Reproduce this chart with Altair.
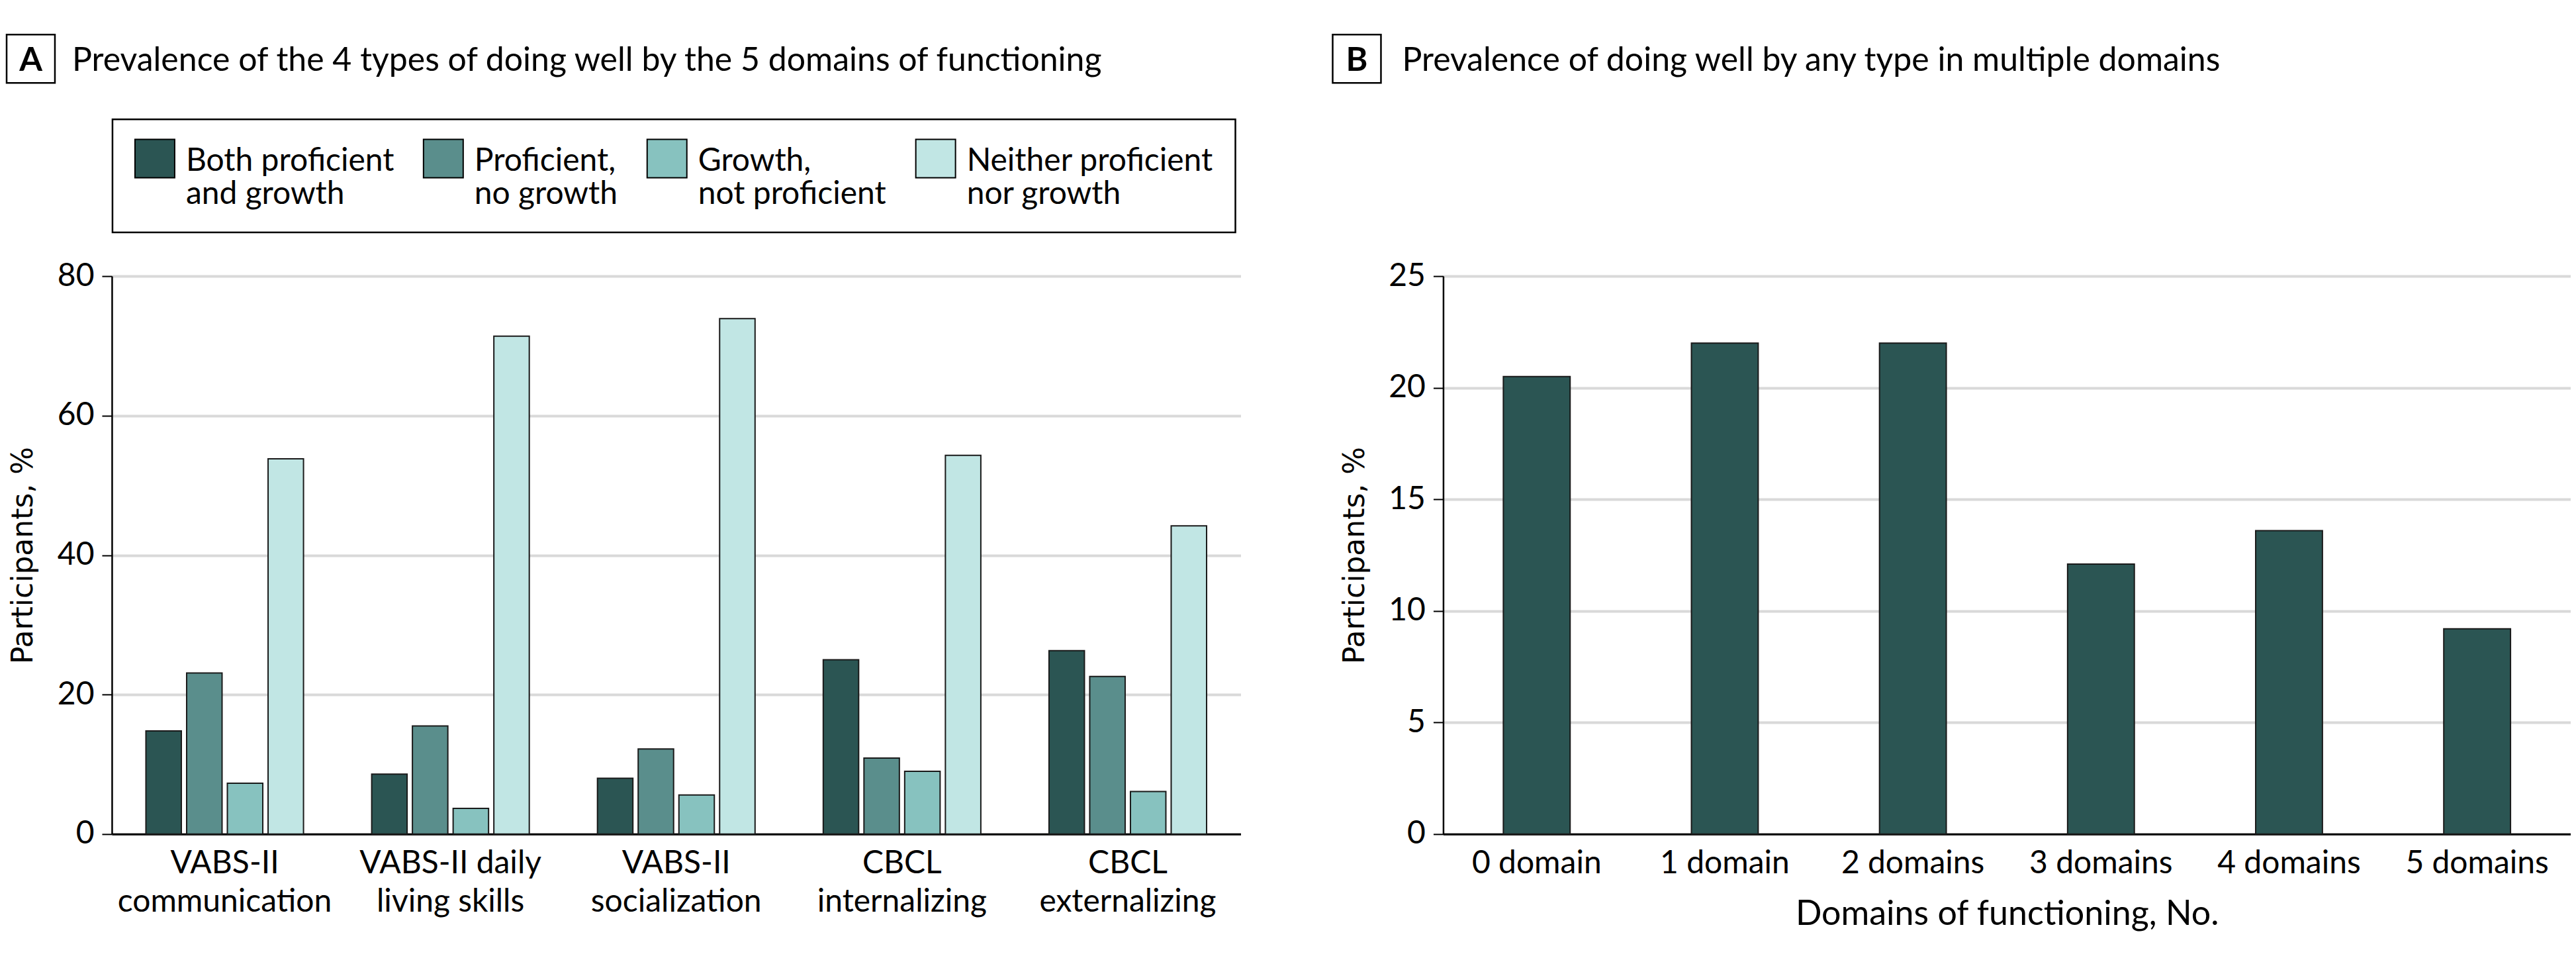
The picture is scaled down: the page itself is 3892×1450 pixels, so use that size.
import altair as alt
import pandas as pd

# ---------------- data ----------------
domains_a = ["VABS-II|communication", "VABS-II daily|living skills", "VABS-II|socialization",
             "CBCL|internalizing", "CBCL|externalizing"]
types_a = ["Both proficient|and growth", "Proficient,|no growth", "Growth,|not proficient",
           "Neither proficient|nor growth"]
both_prof_growth = [14.8, 8.6, 8.0, 25.0, 26.3]
prof_no_growth = [23.1, 15.5, 12.2, 10.9, 22.6]
growth_not_prof = [7.3, 3.7, 5.6, 9.0, 6.1]
neither = [53.8, 71.4, 73.9, 54.3, 44.2]
colors_a = ["#2b5553", "#5a8e8c", "#87c2bf", "#c1e6e4"]

domains_b = ["0 domain", "1 domain", "2 domains", "3 domains", "4 domains", "5 domains"]
values_b = [20.5, 22.0, 22.0, 12.1, 13.6, 9.2]

title_a = "Prevalence of the 4 types of doing well by the 5 domains of functioning"
title_b = "Prevalence of doing well by any type in multiple domains"

# ---------------- tables ----------------
rows = []
for series, vals in zip(types_a, [both_prof_growth, prof_no_growth, growth_not_prof, neither]):
    for d, v in zip(domains_a, vals):
        rows.append({"domain": d, "type": series, "value": v})
df_a = pd.DataFrame(rows)
df_b = pd.DataFrame({"domain": domains_b, "value": values_b})
deco = pd.DataFrame({"k": [0]})

FONT = "Lato"
W_A, W_B, H = 1706, 1704, 843


def y_axis(values, title):
    return alt.Axis(values=values, title=title, titleFont="DejaVu Sans", titleFontSize=44,
                    titleFontWeight="normal", titleColor="black", titleX=-120, titleY=H / 2,
                    titleAngle=270, titleBaseline="alphabetic", titleAlign="center",
                    labelFont=FONT, labelFontSize=48, labelColor="black", labelPadding=12,
                    tickSize=15, tickColor="black", tickWidth=2, domainColor="black",
                    domainWidth=2.5, gridColor="#d9d9d9", gridWidth=4, labelFlush=False,
                    labelLimit=1000)


def panel_label(letter, title, box_x0, text_x):
    box = alt.Chart(deco).mark_rect(fill="white", stroke="black", strokeWidth=2.5).encode(
        x=alt.value(box_x0), x2=alt.value(box_x0 + 73), y=alt.value(-365), y2=alt.value(-292))
    let = alt.Chart(deco).mark_text(text=letter, font=FONT, fontSize=50, fontWeight="bold",
                                    align="center", baseline="alphabetic", color="black").encode(
        x=alt.value(box_x0 + 36.5), y=alt.value(-310))
    ttl = alt.Chart(deco).mark_text(text=title, font=FONT, fontSize=50, align="left",
                                    baseline="alphabetic", color="black").encode(
        x=alt.value(text_x), y=alt.value(-310))
    return [box, let, ttl]


bars_a = alt.Chart(df_a).mark_bar(stroke="#1a1a1a", strokeWidth=2).encode(
    x=alt.X("domain:N", sort=domains_a,
            scale=alt.Scale(paddingInner=0.302, paddingOuter=0.151),
            axis=alt.Axis(title=None, labelExpr="split(datum.label, '|')", labelFont=FONT,
                          labelFontSize=48, labelColor="black", labelLineHeight=58,
                          labelPadding=21, ticks=False, tickSize=0, domainColor="black",
                          domainWidth=3, labelAngle=0, labelLimit=1000, grid=False,
                          labelOverlap=False)),
    xOffset=alt.XOffset("type:N", sort=types_a,
                        scale=alt.Scale(paddingInner=0.13, paddingOuter=0)),
    y=alt.Y("value:Q", scale=alt.Scale(domain=[0, 80], nice=False),
            axis=y_axis([0, 20, 40, 60, 80], "Participants, %")),
    color=alt.Color("type:N", sort=types_a, title=None,
                    scale=alt.Scale(domain=types_a, range=colors_a),
                    legend=alt.Legend(orient="none", legendX=1, legendY=-237,
                                      direction="horizontal", columns=4,
                                      labelExpr="split(datum.label, '|')",
                                      labelFont=FONT, labelFontSize=48, labelColor="black",
                                      labelLimit=1000, labelOffset=16, labelBaseline="middle",
                                      symbolType="M-1,-1.117H1V0.817H-1Z", symbolSize=3600,
                                      symbolStrokeColor="black", symbolStrokeWidth=2,
                                      symbolOpacity=1, columnPadding=40, padding=33,
                                      strokeColor="black")),
)

chart_a = alt.layer(bars_a, *panel_label("A", title_a, -159, -60)).properties(
    width=W_A, height=H)

bars_b = alt.Chart(df_b).mark_bar(color=colors_a[0], stroke="#1a1a1a", strokeWidth=2).encode(
    x=alt.X("domain:N", sort=domains_b,
            scale=alt.Scale(paddingInner=0.645, paddingOuter=0.32),
            axis=alt.Axis(title="Domains of functioning, No.", titleFont=FONT, titleFontSize=52,
                          titleFontWeight="normal", titleColor="black", titleY=137,
                          titleBaseline="alphabetic", labelFont=FONT, labelFontSize=48,
                          labelColor="black", labelPadding=21, ticks=False, tickSize=0,
                          domainColor="black", domainWidth=3, labelAngle=0, labelLimit=1000,
                          grid=False, labelOverlap=False)),
    y=alt.Y("value:Q", scale=alt.Scale(domain=[0, 25], nice=False),
            axis=y_axis([0, 5, 10, 15, 20, 25], "Participants, %")),
)

chart_b = alt.layer(bars_b, *panel_label("B", title_b, -167, -62)).properties(
    width=W_B, height=H)

chart = alt.hconcat(chart_a, chart_b, spacing=137).configure_view(strokeWidth=0).configure_legend(
    strokeWidth=2.5).properties(padding={"left": 0, "top": 42, "right": 0, "bottom": 0})

chart.save("out.html", embed_options={"renderer": "svg", "actions": False})
